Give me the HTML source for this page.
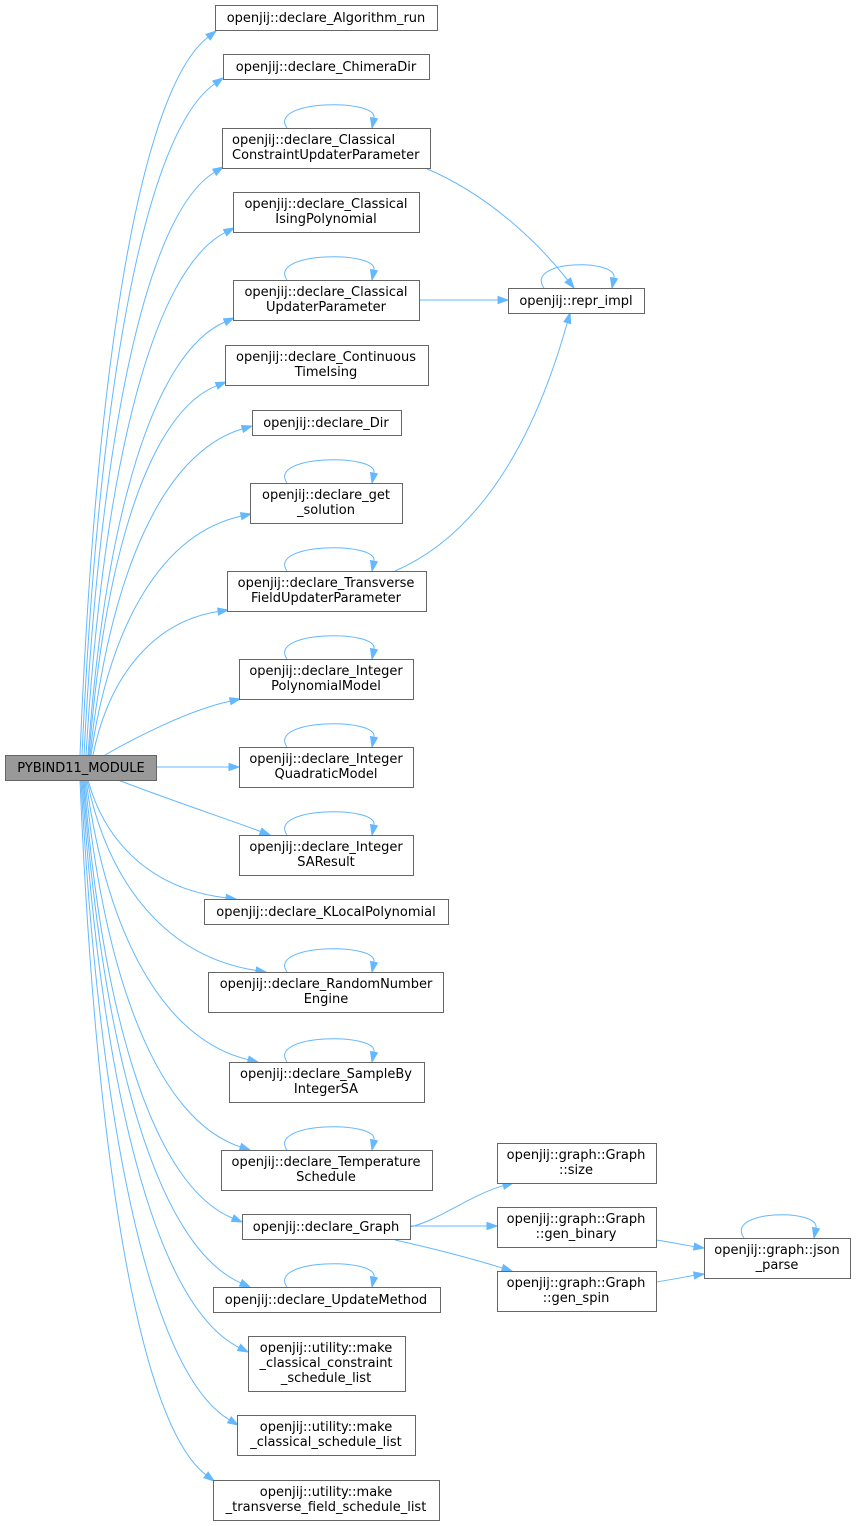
<!DOCTYPE html>
<html><head><meta charset="utf-8"><style>
html,body{margin:0;padding:0;background:#fff;}
svg{display:block;}
text{font-family:"DejaVu Sans","Liberation Sans",sans-serif;font-size:13px;fill:#000;text-anchor:middle;}
rect{fill:#fff;stroke:#666;stroke-width:1;}
</style></head><body>
<svg id="g" width="856" height="1526" viewBox="0 0 856 1526" xmlns="http://www.w3.org/2000/svg">
<g id="edges" fill="none" stroke="#63b8ff" stroke-width="1"></g>
<g id="heads" fill="#63b8ff" stroke="#63b8ff"></g>
<rect x="5.5" y="755.5" width="151" height="25" style="fill:#999"/><text x="81" y="772">PYBIND11_MODULE</text>
<rect x="215.5" y="5.5" width="222" height="25"/><text x="326" y="22">openjij::declare_Algorithm_run</text>
<rect x="223.5" y="54.5" width="206" height="25"/><text x="326" y="71">openjij::declare_ChimeraDir</text>
<rect x="222.5" y="128.5" width="208" height="40"/><text x="232" y="144" style="text-anchor:start">openjij::declare_Classical</text><text x="232" y="159" style="text-anchor:start">ConstraintUpdaterParameter</text>
<rect x="233.5" y="192.5" width="186" height="40"/><text x="326" y="208">openjij::declare_Classical</text><text x="326" y="223">IsingPolynomial</text>
<rect x="233.5" y="280.5" width="186" height="40"/><text x="326" y="296">openjij::declare_Classical</text><text x="326" y="311">UpdaterParameter</text>
<rect x="225.5" y="345.5" width="203" height="40"/><text x="326" y="361">openjij::declare_Continuous</text><text x="326" y="376">TimeIsing</text>
<rect x="252.5" y="410.5" width="149" height="25"/><text x="326" y="427">openjij::declare_Dir</text>
<rect x="250.5" y="483.5" width="152" height="40"/><text x="326" y="499">openjij::declare_get</text><text x="326" y="514">_solution</text>
<rect x="227.5" y="571.5" width="199" height="40"/><text x="326" y="587">openjij::declare_Transverse</text><text x="326" y="602">FieldUpdaterParameter</text>
<rect x="239.5" y="659.5" width="174" height="40"/><text x="326" y="675">openjij::declare_Integer</text><text x="326" y="690">PolynomialModel</text>
<rect x="239.5" y="747.5" width="174" height="40"/><text x="326" y="763">openjij::declare_Integer</text><text x="326" y="778">QuadraticModel</text>
<rect x="239.5" y="835.5" width="174" height="40"/><text x="326" y="851">openjij::declare_Integer</text><text x="326" y="866">SAResult</text>
<rect x="204.5" y="899.5" width="244" height="25"/><text x="326" y="916">openjij::declare_KLocalPolynomial</text>
<rect x="208.5" y="972.5" width="235" height="40"/><text x="326" y="988">openjij::declare_RandomNumber</text><text x="326" y="1003">Engine</text>
<rect x="229.5" y="1062.5" width="195" height="40"/><text x="326" y="1078">openjij::declare_SampleBy</text><text x="326" y="1093">IntegerSA</text>
<rect x="221.5" y="1150.5" width="211" height="40"/><text x="326" y="1166">openjij::declare_Temperature</text><text x="326" y="1181">Schedule</text>
<rect x="242.5" y="1214.5" width="168" height="25"/><text x="326" y="1231">openjij::declare_Graph</text>
<rect x="213.5" y="1287.5" width="227" height="25"/><text x="326" y="1304">openjij::declare_UpdateMethod</text>
<rect x="248.5" y="1336.5" width="157" height="55"/><text x="326" y="1352">openjij::utility::make</text><text x="326" y="1367">_classical_constraint</text><text x="326" y="1382">_schedule_list</text>
<rect x="237.5" y="1415.5" width="178" height="40"/><text x="326" y="1431">openjij::utility::make</text><text x="326" y="1446">_classical_schedule_list</text>
<rect x="213.5" y="1480.5" width="226" height="40"/><text x="326" y="1496">openjij::utility::make</text><text x="326" y="1511">_transverse_field_schedule_list</text>
<rect x="508.5" y="288.5" width="136" height="25"/><text x="576" y="305">openjij::repr_impl</text>
<rect x="497.5" y="1143.5" width="159" height="40"/><text x="576" y="1159">openjij::graph::Graph</text><text x="576" y="1174">::size</text>
<rect x="497.5" y="1207.5" width="159" height="40"/><text x="576" y="1223">openjij::graph::Graph</text><text x="576" y="1238">::gen_binary</text>
<rect x="497.5" y="1271.5" width="159" height="40"/><text x="576" y="1287">openjij::graph::Graph</text><text x="576" y="1302">::gen_spin</text>
<rect x="704.5" y="1238.5" width="146" height="40"/><text x="777" y="1254">openjij::graph::json</text><text x="777" y="1269">_parse</text>
</svg>
<script>
var E=document.getElementById('edges'),H=document.getElementById('heads'),NS='http://www.w3.org/2000/svg';
function edge(p){
 var dx=p[6]-p[4],dy=p[7]-p[5],l=Math.hypot(dx,dy)||1;dx/=l;dy/=l;
 var L=10,W=3.5,bx=p[6]-dx*L,by=p[7]-dy*L;
 var path=document.createElementNS(NS,'path');
 path.setAttribute('d','M'+p[0]+' '+p[1]+' C'+p[2]+' '+p[3]+' '+p[4]+' '+p[5]+' '+bx+' '+by);
 E.appendChild(path);
 var t=document.createElementNS(NS,'polygon');
 t.setAttribute('points',p[6]+','+p[7]+' '+(bx-dy*W)+','+(by+dx*W)+' '+(bx+dy*W)+','+(by-dx*W));
 H.appendChild(t);
}
function fan(sx,sy,tx,ty){
 edge([sx,sy,sx+(tx-sx)*0.12,sy-(sy-ty)*0.55,sx+(tx-sx)*0.45,ty+(sy-ty)*0.08,tx,ty]);
}
[[80,755,216,31],[82,755,223,78],[84,755,223,167],[86,755,234,228],[88,755,234,318],[89,755,226,382],[90,755,252,426],[91,755,251,514],[93,755,228,610]].forEach(function(a){fan(a[0],a[1],a[2],a[3]);});
edge([105,755,140,735,190,710,240,699]);
edge([156,767,190,767,210,767,239,767]);
edge([118,780,170,800,230,820,270,835]);
function fanD(sx,sy,tx,ty){
 edge([sx,sy,sx+(tx-sx)*0.12,sy+(ty-sy)*0.55,sx+(tx-sx)*0.45,ty-(ty-sy)*0.08,tx,ty]);
}
[[88,780,236,899],[87,780,266,972],[86,780,258,1062],[85,780,250,1150],[84,780,242,1222],[83,780,250,1287],[82,780,248,1352],[81,780,238,1425],[80,780,214,1481]].forEach(function(a){fanD(a[0],a[1],a[2],a[3]);});
function loop(l,r,y){edge([l+4,y,l-16,y-28,r+6,y-30,r,y]);}
[[283,372,128],[283,372,280],[283,372,483],[283,372,571],[283,372,659],[283,372,747],[283,372,835],[283,372,972],[283,372,1062],[283,372,1150],[283,372,1287],[540,612,288],[740,814,1238]].forEach(function(a){loop(a[0],a[1],a[2]);});
edge([425,168,490,195,540,245,574,288]);
edge([419,300,460,300,480,300,508,300]);
edge([395,571,490,530,540,420,570,313]);
edge([410,1227,440,1220,470,1195,513,1183]);
edge([410,1226,440,1226,470,1226,497,1226]);
edge([395,1240,440,1250,470,1258,512,1271]);
edge([656,1240,670,1242,690,1246,704,1248]);
edge([656,1282,670,1280,690,1276,704,1274]);
</script>
</body></html>
